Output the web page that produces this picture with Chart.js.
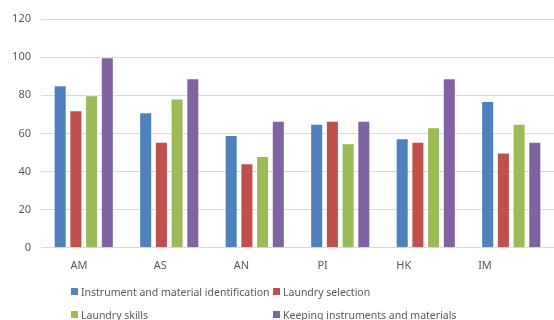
<!DOCTYPE html>
<html>
<head>
<meta charset="utf-8">
<script src="https://cdn.jsdelivr.net/npm/chart.js@4/dist/chart.umd.min.js"></script>
<style>
  html, body { margin: 0; padding: 0; background: #fff; }
  #wrap { position: relative; width: 554px; height: 320px; overflow: hidden; }
  #legend {
    position: absolute; left: 71px; top: 280px;
    display: grid; grid-template-columns: 202px auto;
    font: 10.5px 'Noto Sans', sans-serif; color: #595959;
  }
  #legend .item { display: flex; align-items: center; height: 23px; white-space: nowrap; }
  #legend .sw { width: 7px; height: 7px; margin-right: 3px; flex: none; }
</style>
</head>
<body>
<div id="wrap">
  <canvas id="chart" width="554" height="320"></canvas>
  <div id="legend"></div>
</div>
<script>
// Competency areas along the x axis
const categories = ['AM', 'AS', 'AN', 'PI', 'HK', 'IM'];

// Scores (%) per competency
const identification = [85.2, 71.1, 59.2, 65, 57.4, 77];
const selection      = [72.2, 55.6, 44.4, 66.7, 55.6, 50];
const skills         = [80, 78.3, 48.1, 54.8, 63.2, 65];
const keeping        = [100, 88.9, 66.7, 66.7, 88.9, 55.6];

const seriesNames = [
  'Instrument and material identification',
  'Laundry selection',
  'Laundry skills',
  'Keeping instruments and materials'
];
const seriesColors = ['#4F81BD', '#C0504D', '#9BBB59', '#8064A2'];

const yTicks = { min: 0, max: 120, step: 20 };

const textColor = '#595959';
const font = { family: "'Noto Sans', sans-serif", size: 11 };

const seriesData = [identification, selection, skills, keeping];
const datasets = seriesData.map((d, i) => ({
  label: seriesNames[i],
  data: d,
  backgroundColor: seriesColors[i],
  borderColor: 'rgba(255,255,255,0.45)',
  borderWidth: 1,
  categoryPercentage: 0.735,
  barPercentage: 0.83,
  xAxisID: 'x',
  yAxisID: 'y'
}));

// Two-column legend rendered as HTML from the chart's own legend items
const htmlLegend = {
  id: 'htmlLegend',
  afterUpdate(chart) {
    const box = document.getElementById('legend');
    box.innerHTML = '';
    const items = chart.options.plugins.legend.labels.generateLabels(chart);
    items.forEach(it => {
      const el = document.createElement('div');
      el.className = 'item';
      const sw = document.createElement('span');
      sw.className = 'sw';
      sw.style.background = it.fillStyle;
      const tx = document.createElement('span');
      tx.textContent = it.text;
      el.appendChild(sw);
      el.appendChild(tx);
      box.appendChild(el);
    });
  }
};

new Chart(document.getElementById('chart'), {
  type: 'bar',
  data: { labels: categories, datasets },
  plugins: [htmlLegend],
  options: {
    responsive: false,
    animation: false,
    layout: { padding: { top: 19, right: 0, bottom: 45, left: 0 } },
    plugins: {
      legend: { display: false },
      tooltip: { enabled: false }
    },
    scales: {
      x: { type: 'category', display: false },
      // category captions along the bottom, one per integer position
      xLabels: {
        type: 'linear',
        axis: 'x',
        position: 'bottom',
        offset: false,
        min: -0.468,
        max: 5.85,
        grid: { display: false, offset: false },
        border: { display: false },
        afterBuildTicks(scale) {
          scale.ticks = categories.map((c, i) => ({ value: i }));
        },
        afterFit(scale) {
          scale.paddingLeft = 0;
          scale.paddingRight = 0;
        },
        ticks: {
          autoSkip: false,
          maxRotation: 0,
          padding: 3,
          color: textColor,
          font,
          callback: v => categories[v] ?? ''
        }
      },
      y: {
        min: yTicks.min,
        max: yTicks.max,
        grid: { color: '#D9D9D9', drawTicks: false },
        border: { display: false },
        ticks: { stepSize: yTicks.step, padding: 10, color: textColor, font },
        afterFit(scale) { scale.width = 41; }
      }
    }
  }
});
</script>
</body>
</html>
